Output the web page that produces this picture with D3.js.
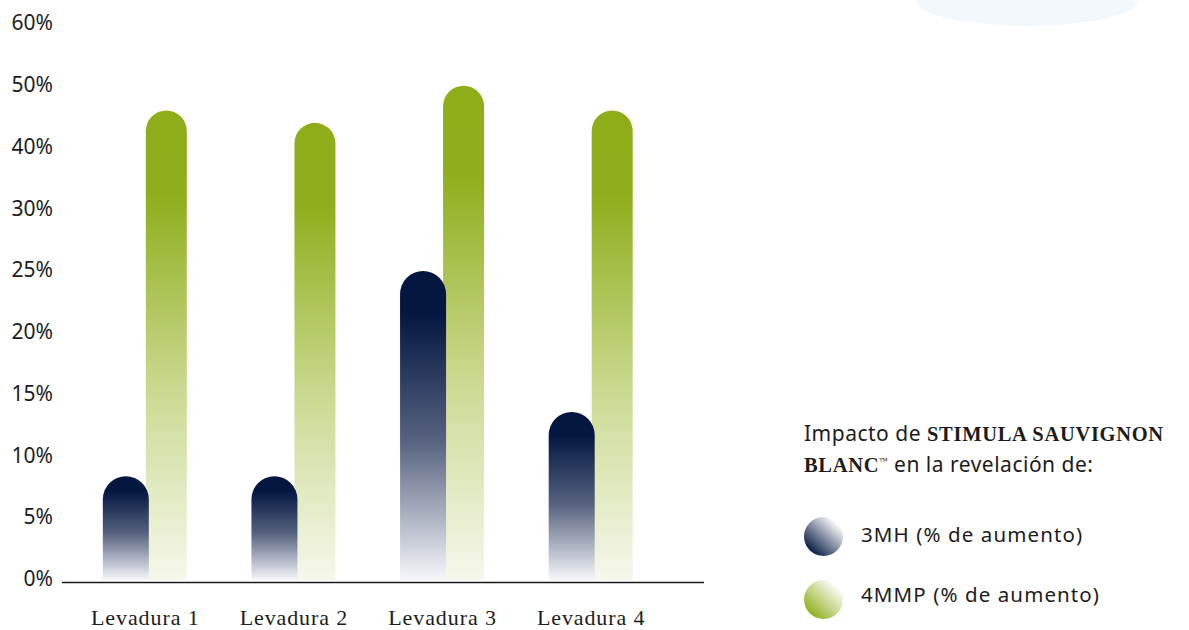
<!DOCTYPE html>
<html lang="es">
<head>
<meta charset="utf-8">
<script src="https://cdn.jsdelivr.net/npm/d3@7"></script>
<style>
  html, body { margin: 0; padding: 0; background: #ffffff; }
  svg { display: block; }
</style>
</head>
<body>
<svg id="chart" width="1189" height="630"></svg>
<script>
// Yeast strains on the x axis
const categories = ["Levadura 1", "Levadura 2", "Levadura 3", "Levadura 4"];
// % increase of each thiol per strain
const series3MH = [8.4, 8.4, 25, 13.6];
const series4MMP = [46, 44, 50, 46];
// Evenly spaced axis labels (non-linear steps)
const tickValues = [0, 5, 10, 15, 20, 25, 30, 40, 50, 60];
const tickLabels = ["0%", "5%", "10%", "15%", "20%", "25%", "30%", "40%", "50%", "60%"];
const legendLabels = ["3MH (% de aumento)", "4MMP (% de aumento)"];

const svg = d3.select("#chart");
const textColor = "#1c1c1c";
const sans = "'Noto Sans', 'Open Sans', sans-serif";
const serif = "'Liberation Serif', 'DejaVu Serif', serif";

// Soft decorative shape at the top-right corner
svg.append("ellipse")
  .attr("cx", 1027).attr("cy", 0)
  .attr("rx", 111).attr("ry", 26)
  .attr("fill", "#f3f8fd");

// Gradients
const defs = svg.append("defs");
function vGrad(id, stops) {
  const g = defs.append("linearGradient").attr("id", id)
    .attr("x1", 0).attr("y1", 0).attr("x2", 0).attr("y2", 1);
  stops.forEach(s => g.append("stop").attr("offset", s[0]).attr("stop-color", s[1]));
}
vGrad("gradNavy", [[0, "#021640"], [0.14, "#031741"], [0.55, "#56627f"], [1, "#f6f7fa"]]);
vGrad("gradGreen", [[0, "#8fad19"], [0.18, "#90ae1c"], [0.6, "#cbda92"], [1, "#f6f8ec"]]);
function dGrad(id, dark) {
  const g = defs.append("linearGradient").attr("id", id)
    .attr("x1", 0.15).attr("y1", 0.9).attr("x2", 0.85).attr("y2", 0.15);
  g.append("stop").attr("offset", 0).attr("stop-color", dark);
  g.append("stop").attr("offset", 0.45).attr("stop-color", d3.interpolateRgb(dark, "#ffffff")(0.45));
  g.append("stop").attr("offset", 1).attr("stop-color", "#ffffff");
}
dGrad("legNavy", "#021640");
dGrad("legGreen", "#8fad19");

// Scales
const x = d3.scaleBand().domain(categories).range([71, 665.5]).padding(0);
const yRange = tickValues.map((d, i) => 580 - i * (556 / (tickValues.length - 1)));
const y = d3.scaleLinear().domain(tickValues).range(yRange);

// Y axis labels (no line)
const yAxis = d3.axisLeft(y).tickValues(tickValues)
  .tickFormat((d, i) => tickLabels[i]).tickSize(0).tickPadding(0);
const gy = svg.append("g").attr("transform", "translate(53,0)").call(yAxis);
gy.select(".domain").remove();
gy.selectAll("text")
  .attr("font-family", sans).attr("font-size", 21)
  .attr("fill", textColor).attr("dy", "0.32em")
  .attr("y", -1);

// Bars with a fully rounded top
function barPath(x0, w, yTop, yBase) {
  const r = w / 2;
  return `M${x0},${yBase} L${x0},${yTop + r} A${r},${r} 0 0 1 ${x0 + w},${yTop + r} L${x0 + w},${yBase} Z`;
}
const center = c => x(c) + x.bandwidth() / 2;

svg.append("g").selectAll("path")
  .data(categories.map((c, i) => ({ c, v: series4MMP[i] })))
  .join("path")
  .attr("d", d => barPath(center(d.c) + 0.5, 41, y(d.v), y(0)))
  .attr("fill", "url(#gradGreen)");

svg.append("g").selectAll("path")
  .data(categories.map((c, i) => ({ c, v: series3MH[i] })))
  .join("path")
  .attr("d", d => barPath(center(d.c) - 42.5, 46, y(d.v), y(0)))
  .attr("fill", "url(#gradNavy)");

// Baseline
svg.append("line")
  .attr("x1", 62).attr("x2", 704)
  .attr("y1", 582.5).attr("y2", 582.5)
  .attr("stroke", "#1a1a1a").attr("stroke-width", 1.6);

// X labels
const xAxis = d3.axisBottom(x).tickSize(0).tickPadding(0);
const gx = svg.append("g").attr("transform", "translate(0,625)").call(xAxis);
gx.select(".domain").remove();
gx.selectAll("text")
  .attr("font-family", serif).attr("font-size", 22)
  .attr("letter-spacing", "0.9px")
  .attr("fill", textColor).attr("dy", 0);

// Legend
const legend = svg.append("g");
const title1 = legend.append("text")
  .attr("x", 804).attr("y", 441)
  .attr("font-family", sans).attr("font-size", 21)
  .attr("letter-spacing", "0.5px").attr("fill", textColor);
title1.append("tspan").text("Impacto de ");
title1.append("tspan").attr("font-family", serif).attr("font-weight", "bold")
  .attr("font-size", 20.5).attr("letter-spacing", "0.7px").text("STIMULA SAUVIGNON");

const title2 = legend.append("text")
  .attr("x", 804).attr("y", 472)
  .attr("font-family", sans).attr("font-size", 21)
  .attr("letter-spacing", "0.5px").attr("fill", textColor);
title2.append("tspan").attr("font-family", serif).attr("font-weight", "bold")
  .attr("font-size", 20.5).attr("letter-spacing", "0.7px").text("BLANC");
title2.append("tspan").attr("font-family", serif).attr("font-size", 9)
  .attr("letter-spacing", "0px").attr("dy", -8).text("™");
title2.append("tspan").attr("dy", 8).text(" en la revelación de:");

const legendRows = [
  { label: legendLabels[0], fill: "url(#legNavy)", cy: 536.5, ty: 541.5 },
  { label: legendLabels[1], fill: "url(#legGreen)", cy: 599.5, ty: 602 }
];
legend.selectAll("circle").data(legendRows).join("circle")
  .attr("cx", 823.5).attr("cy", d => d.cy).attr("r", 19.5)
  .attr("fill", d => d.fill);
legend.selectAll("text.item").data(legendRows).join("text")
  .attr("class", "item")
  .attr("x", 861).attr("y", d => d.ty)
  .attr("font-family", sans).attr("font-size", 20.5)
  .attr("letter-spacing", "1.1px").attr("fill", textColor)
  .text(d => d.label);
</script>
</body>
</html>
